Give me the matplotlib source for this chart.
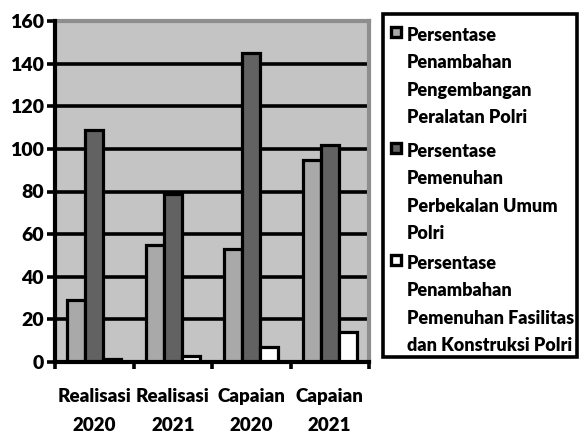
import matplotlib
matplotlib.use("Agg")
import matplotlib.pyplot as plt
from matplotlib.patches import Rectangle
import numpy as np

# Data
categories = ["Realisasi\n2020", "Realisasi\n2021", "Capaian\n2020", "Capaian\n2021"]
series_names = [
    "Persentase\nPenambahan\nPengembangan\nPeralatan Polri",
    "Persentase\nPemenuhan\nPerbekalan Umum\nPolri",
    "Persentase\nPenambahan\nPemenuhan Fasilitas\ndan Konstruksi Polri",
]
peralatan = [29, 55, 53, 95]
perbekalan = [109, 79, 145, 102]
fasilitas = [1.5, 3, 7, 14]
yticks = [0, 20, 40, 60, 80, 100, 120, 140, 160]

colors = ["#a9a9a9", "#626262", "#ffffff"]
series = [peralatan, perbekalan, fasilitas]

plt.rcParams["font.family"] = ["Lato", "DejaVu Sans"]
WEIGHT = "heavy"

W, H = 580, 434
fig = plt.figure(figsize=(W / 100, H / 100), dpi=100)
ax = fig.add_axes([55 / W, (H - 362) / H, (369 - 55) / W, (362 - 21) / H])

ax.set_facecolor("#c4c4c4")
ax.set_xlim(0, 4)
ax.set_ylim(0, 160)

# Horizontal gridlines
for v in yticks[1:-1]:
    ax.axhline(v, color="black", lw=2.6, zorder=1)

bw = 0.23
x = np.arange(len(categories)) + 0.5
for k, (vals, col) in enumerate(zip(series, colors)):
    ax.bar(x + (k - 1) * bw, vals, width=bw, color=col, edgecolor="black",
           linewidth=2.3, zorder=3)

# Spines
for s in ["top", "right"]:
    ax.spines[s].set_color("#8e8e8e")
    ax.spines[s].set_linewidth(3)
for s in ["left", "bottom"]:
    ax.spines[s].set_color("black")
    ax.spines[s].set_linewidth(3)
    ax.spines[s].set_zorder(5)

ax.set_yticks(yticks)
ax.set_yticklabels([str(v) for v in yticks], fontsize=14, fontweight=WEIGHT)
ax.tick_params(axis="y", direction="out", length=6, width=2.6, pad=2)

# Category boundaries as ticks, labels at the centres
ax.set_xticks(np.arange(len(categories) + 1))
ax.set_xticklabels([])
ax.tick_params(axis="x", which="major", direction="out", length=5, width=2.6)
ax.set_xticks(x, minor=True)
ax.set_xticklabels(categories, minor=True, fontsize=13.5, fontweight=WEIGHT,
                   linespacing=1.8)
ax.tick_params(axis="x", which="minor", length=0, pad=19)

# Legend box
fig.patches.append(Rectangle((383 / W, (H - 357) / H), (577 - 383) / W, (357 - 14) / H,
                             transform=fig.transFigure, facecolor="white",
                             edgecolor="black", linewidth=2.6, zorder=0))
entry_tops = [27, 143, 255]
for name, col, top in zip(series_names, colors, entry_tops):
    fig.patches.append(Rectangle((391 / W, (H - top - 10) / H), 10 / W, 10 / H,
                                 transform=fig.transFigure, facecolor=col,
                                 edgecolor="black", linewidth=2.4, zorder=2))
    fig.text(407 / W, (H - top) / H, name, fontsize=13, fontweight=WEIGHT,
             va="top", ha="left", linespacing=1.74)

fig.savefig("out.png", dpi=100)
